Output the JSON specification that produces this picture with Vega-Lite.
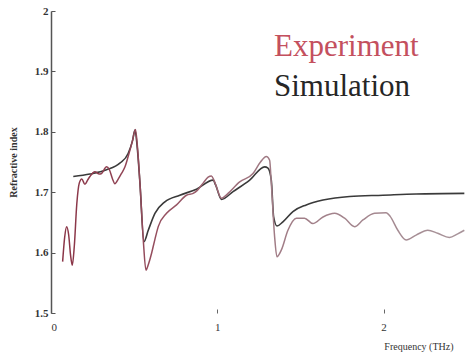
{
  "$schema": "https://vega.github.io/schema/vega-lite/v6.json",
  "width": 414,
  "height": 302,
  "autosize": "none",
  "padding": {"left": 51, "top": 11, "right": 0, "bottom": 43},
  "background": "white",
  "config": {
    "view": {"stroke": null},
    "font": "Liberation Serif, Times New Roman, serif",
    "axis": {"grid": false, "labelFont": "Liberation Serif, Times New Roman, serif", "titleFont": "Liberation Serif, Times New Roman, serif", "labelColor": "#333333", "titleColor": "#333333"}
  },
  "data": {"values": [
    {"series":"Experiment","f":0.070,"n":1.585},
    {"series":"Experiment","f":0.082,"n":1.625},
    {"series":"Experiment","f":0.094,"n":1.643},
    {"series":"Experiment","f":0.106,"n":1.630},
    {"series":"Experiment","f":0.118,"n":1.595},
    {"series":"Experiment","f":0.128,"n":1.579},
    {"series":"Experiment","f":0.140,"n":1.610},
    {"series":"Experiment","f":0.155,"n":1.680},
    {"series":"Experiment","f":0.170,"n":1.715},
    {"series":"Experiment","f":0.185,"n":1.722},
    {"series":"Experiment","f":0.204,"n":1.713},
    {"series":"Experiment","f":0.220,"n":1.720},
    {"series":"Experiment","f":0.234,"n":1.726},
    {"series":"Experiment","f":0.264,"n":1.734},
    {"series":"Experiment","f":0.290,"n":1.730},
    {"series":"Experiment","f":0.304,"n":1.731},
    {"series":"Experiment","f":0.334,"n":1.742},
    {"series":"Experiment","f":0.350,"n":1.738},
    {"series":"Experiment","f":0.370,"n":1.722},
    {"series":"Experiment","f":0.384,"n":1.714},
    {"series":"Experiment","f":0.405,"n":1.722},
    {"series":"Experiment","f":0.424,"n":1.731},
    {"series":"Experiment","f":0.445,"n":1.742},
    {"series":"Experiment","f":0.464,"n":1.759},
    {"series":"Experiment","f":0.490,"n":1.785},
    {"series":"Experiment","f":0.508,"n":1.804},
    {"series":"Experiment","f":0.520,"n":1.775},
    {"series":"Experiment","f":0.535,"n":1.715},
    {"series":"Experiment","f":0.555,"n":1.621},
    {"series":"Experiment","f":0.571,"n":1.571},
    {"series":"Experiment","f":0.585,"n":1.580},
    {"series":"Experiment","f":0.605,"n":1.599},
    {"series":"Experiment","f":0.625,"n":1.622},
    {"series":"Experiment","f":0.645,"n":1.643},
    {"series":"Experiment","f":0.695,"n":1.665},
    {"series":"Experiment","f":0.755,"n":1.679},
    {"series":"Experiment","f":0.815,"n":1.695},
    {"series":"Experiment","f":0.855,"n":1.698},
    {"series":"Experiment","f":0.880,"n":1.703},
    {"series":"Experiment","f":0.915,"n":1.715},
    {"series":"Experiment","f":0.945,"n":1.725},
    {"series":"Experiment","f":0.965,"n":1.727},
    {"series":"Experiment","f":0.980,"n":1.720},
    {"series":"Experiment","f":0.995,"n":1.709},
    {"series":"Experiment","f":1.025,"n":1.690},
    {"series":"Experiment","f":1.045,"n":1.693},
    {"series":"Experiment","f":1.065,"n":1.698},
    {"series":"Experiment","f":1.135,"n":1.717},
    {"series":"Experiment","f":1.215,"n":1.731},
    {"series":"Experiment","f":1.260,"n":1.750},
    {"series":"Experiment","f":1.295,"n":1.759},
    {"series":"Experiment","f":1.315,"n":1.753},
    {"series":"Experiment","f":1.325,"n":1.715},
    {"series":"Experiment","f":1.345,"n":1.626},
    {"series":"Experiment","f":1.359,"n":1.593},
    {"series":"Experiment","f":1.385,"n":1.604},
    {"series":"Experiment","f":1.425,"n":1.637},
    {"series":"Experiment","f":1.476,"n":1.657},
    {"series":"Experiment","f":1.525,"n":1.657},
    {"series":"Experiment","f":1.575,"n":1.648},
    {"series":"Experiment","f":1.636,"n":1.659},
    {"series":"Experiment","f":1.706,"n":1.665},
    {"series":"Experiment","f":1.766,"n":1.657},
    {"series":"Experiment","f":1.826,"n":1.643},
    {"series":"Experiment","f":1.876,"n":1.654},
    {"series":"Experiment","f":1.946,"n":1.665},
    {"series":"Experiment","f":2.016,"n":1.666},
    {"series":"Experiment","f":2.040,"n":1.660},
    {"series":"Experiment","f":2.086,"n":1.637},
    {"series":"Experiment","f":2.136,"n":1.621},
    {"series":"Experiment","f":2.196,"n":1.629},
    {"series":"Experiment","f":2.266,"n":1.637},
    {"series":"Experiment","f":2.326,"n":1.632},
    {"series":"Experiment","f":2.396,"n":1.625},
    {"series":"Experiment","f":2.446,"n":1.631},
    {"series":"Experiment","f":2.486,"n":1.637},
    {"series":"Simulation","f":0.134,"n":1.726},
    {"series":"Simulation","f":0.234,"n":1.730},
    {"series":"Simulation","f":0.334,"n":1.737},
    {"series":"Simulation","f":0.414,"n":1.748},
    {"series":"Simulation","f":0.464,"n":1.764},
    {"series":"Simulation","f":0.490,"n":1.785},
    {"series":"Simulation","f":0.505,"n":1.803},
    {"series":"Simulation","f":0.520,"n":1.770},
    {"series":"Simulation","f":0.535,"n":1.715},
    {"series":"Simulation","f":0.559,"n":1.618},
    {"series":"Simulation","f":0.585,"n":1.637},
    {"series":"Simulation","f":0.625,"n":1.665},
    {"series":"Simulation","f":0.685,"n":1.684},
    {"series":"Simulation","f":0.775,"n":1.695},
    {"series":"Simulation","f":0.875,"n":1.705},
    {"series":"Simulation","f":0.975,"n":1.720},
    {"series":"Simulation","f":0.990,"n":1.712},
    {"series":"Simulation","f":1.025,"n":1.688},
    {"series":"Simulation","f":1.095,"n":1.701},
    {"series":"Simulation","f":1.195,"n":1.720},
    {"series":"Simulation","f":1.285,"n":1.742},
    {"series":"Simulation","f":1.305,"n":1.740},
    {"series":"Simulation","f":1.325,"n":1.720},
    {"series":"Simulation","f":1.339,"n":1.659},
    {"series":"Simulation","f":1.359,"n":1.644},
    {"series":"Simulation","f":1.395,"n":1.651},
    {"series":"Simulation","f":1.455,"n":1.668},
    {"series":"Simulation","f":1.535,"n":1.679},
    {"series":"Simulation","f":1.636,"n":1.687},
    {"series":"Simulation","f":1.796,"n":1.693},
    {"series":"Simulation","f":1.996,"n":1.695},
    {"series":"Simulation","f":2.196,"n":1.697},
    {"series":"Simulation","f":2.486,"n":1.698}
  ]},
  "encoding": {
    "x": {
      "field": "f", "type": "quantitative",
      "scale": {"domain": [0, 2.49], "nice": false, "zero": false},
      "axis": {
        "title": "Frequency (THz)", "values": [0, 1, 2], "format": "d",
        "domain": false, "ticks": true, "tickSize": -4, "tickColor": "#666666",
        "labelFontSize": 11, "labelPadding": 12,
        "titleFontSize": 10, "titleFontWeight": "normal",
        "titleAnchor": "start", "titleAlign": "right", "titleX": 402, "titleY": 36, "titleBaseline": "alphabetic"
      }
    },
    "y": {
      "field": "n", "type": "quantitative",
      "scale": {"domain": [1.5, 2], "nice": false, "zero": false},
      "axis": {
        "title": "Refractive index", "values": [1.5, 1.6, 1.7, 1.8, 1.9, 2], "format": ".2~f",
        "domain": true, "domainColor": "#555555", "domainWidth": 1.5,
        "ticks": true, "tickSize": -4, "tickColor": "#555555",
        "labelFontSize": 11, "labelFontWeight": "bold", "labelPadding": 7,
        "titleFontSize": 10, "titleFontWeight": "bold", "titleX": -33
      }
    }
  },
  "layer": [
    {
      "transform": [{"filter": "datum.series === 'Simulation'"}],
      "mark": {"type": "line", "interpolate": "monotone", "strokeWidth": 1.6},
      "encoding": {
        "color": {
          "field": "series", "type": "nominal",
          "scale": {"domain": ["Experiment", "Simulation"], "range": ["#c4505e", "#3a3a3a"]},
          "legend": {
            "title": null, "orient": "none", "legendX": 192, "legendY": 20,
            "padding": 0, "symbolSize": 0, "symbolOpacity": 0, "symbolStrokeWidth": 0,
            "labelOffset": 0, "labelFont": "Liberation Serif, Times New Roman, serif", "labelFontSize": 31,
            "labelLimit": 300, "rowPadding": 8,
            "encode": {"labels": {"update": {"fill": {"signal": "datum.label === 'Experiment' ? '#c4505e' : '#262626'"}}}}
          }
        }
      }
    },
    {
      "transform": [{"filter": "datum.series === 'Experiment'"}],
      "mark": {
        "type": "line", "interpolate": "monotone", "strokeWidth": 1.5,
        "color": {"gradient": "linear", "x1": 0, "y1": 0, "x2": 1, "y2": 0,
          "stops": [
            {"offset": 0, "color": "#8a3446"},
            {"offset": 0.25, "color": "#965060"},
            {"offset": 0.5, "color": "#a07a84"},
            {"offset": 1, "color": "#a8949a"}
          ]}
      }
    }
  ]
}
